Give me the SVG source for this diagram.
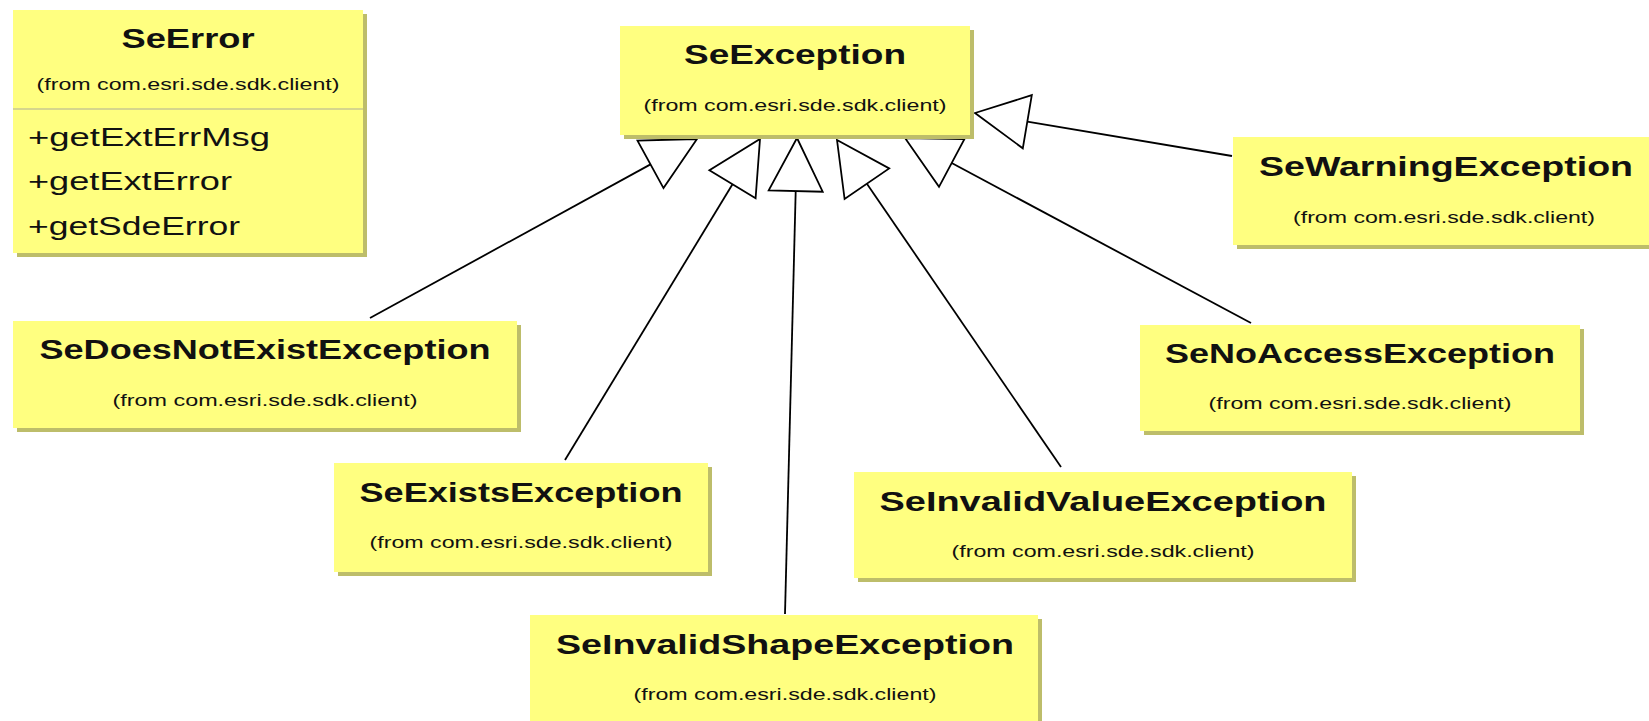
<svg xmlns="http://www.w3.org/2000/svg" width="1649" height="721" viewBox="0 0 1649 721">
<style>
.sh{fill:#BDBD6A}
.bx{fill:#FFFF80}
.t{font-family:"Liberation Sans",Arial,sans-serif;font-weight:bold;font-size:28px;fill:#111;text-anchor:middle}
.s{font-family:"Liberation Sans",Arial,sans-serif;font-size:17px;fill:#111;text-anchor:middle}
.m{font-family:"Liberation Sans",Arial,sans-serif;font-size:25px;fill:#111}
.ln{stroke:#000;stroke-width:1.8;fill:none}
.ar{stroke:#000;stroke-width:1.8;fill:#fff;stroke-linejoin:miter}
</style>
<rect width="1649" height="721" fill="#fff"/>
<g id="connectors">
<line class="ln" x1="370" y1="318" x2="650.5" y2="164.4"/>
<polygon class="ar" points="697,139 637.5,140.7 663.5,188.1"/>
<line class="ln" x1="565" y1="460" x2="732.5" y2="184.3"/>
<polygon class="ar" points="760,139 755.6,198.3 709.4,170.3"/>
<line class="ln" x1="785" y1="614" x2="795.7" y2="191"/>
<polygon class="ar" points="797,138 822.7,191.7 768.7,190.3"/>
<line class="ln" x1="1061" y1="467" x2="866.9" y2="183.7"/>
<polygon class="ar" points="837,140 889.2,168.4 844.6,199"/>
<line class="ln" x1="1251" y1="323" x2="951.7" y2="163"/>
<polygon class="ar" points="905,138 964.4,139.2 939,186.8"/>
<line class="ln" x1="1232" y1="156" x2="1027.3" y2="121.7"/>
<polygon class="ar" points="975,113 1031.8,95.1 1022.8,148.3"/>
</g>
<g id="SeError">
<rect class="sh" x="17" y="14" width="350" height="243"/>
<rect class="bx" x="13" y="10" width="350" height="243"/>
<text class="t" x="188" y="48" textLength="133" lengthAdjust="spacingAndGlyphs">SeError</text>
<text class="s" x="188" y="90" textLength="303" lengthAdjust="spacingAndGlyphs">(from com.esri.sde.sdk.client)</text>
<line x1="13" y1="109" x2="363" y2="109" stroke="#C8C890" stroke-width="1.5"/>
<text class="m" x="28" y="146" textLength="242" lengthAdjust="spacingAndGlyphs">+getExtErrMsg</text>
<text class="m" x="28" y="190" textLength="204" lengthAdjust="spacingAndGlyphs">+getExtError</text>
<text class="m" x="28" y="235" textLength="212" lengthAdjust="spacingAndGlyphs">+getSdeError</text>
</g>
<g id="SeException">
<rect class="sh" x="624" y="30" width="350" height="109"/>
<rect class="bx" x="620" y="26" width="350" height="109"/>
<text class="t" x="795" y="64" textLength="222" lengthAdjust="spacingAndGlyphs">SeException</text>
<text class="s" x="795" y="111" textLength="303" lengthAdjust="spacingAndGlyphs">(from com.esri.sde.sdk.client)</text>
</g>
<g id="SeWarningException">
<rect class="sh" x="1237" y="141" width="420" height="108"/>
<rect class="bx" x="1233" y="137" width="420" height="108"/>
<text class="t" x="1446" y="176" textLength="374" lengthAdjust="spacingAndGlyphs">SeWarningException</text>
<text class="s" x="1444" y="223" textLength="302" lengthAdjust="spacingAndGlyphs">(from com.esri.sde.sdk.client)</text>
</g>
<g id="SeDoesNotExistException">
<rect class="sh" x="17" y="325" width="504" height="107"/>
<rect class="bx" x="13" y="321" width="504" height="107"/>
<text class="t" x="265" y="359" textLength="451" lengthAdjust="spacingAndGlyphs">SeDoesNotExistException</text>
<text class="s" x="265" y="406" textLength="305" lengthAdjust="spacingAndGlyphs">(from com.esri.sde.sdk.client)</text>
</g>
<g id="SeExistsException">
<rect class="sh" x="338" y="467" width="374" height="109"/>
<rect class="bx" x="334" y="463" width="374" height="109"/>
<text class="t" x="521" y="502" textLength="323" lengthAdjust="spacingAndGlyphs">SeExistsException</text>
<text class="s" x="521" y="548" textLength="303" lengthAdjust="spacingAndGlyphs">(from com.esri.sde.sdk.client)</text>
</g>
<g id="SeInvalidShapeException">
<rect class="sh" x="534" y="619" width="508" height="110"/>
<rect class="bx" x="530" y="615" width="508" height="110"/>
<text class="t" x="785" y="654" textLength="458" lengthAdjust="spacingAndGlyphs">SeInvalidShapeException</text>
<text class="s" x="785" y="700" textLength="303" lengthAdjust="spacingAndGlyphs">(from com.esri.sde.sdk.client)</text>
</g>
<g id="SeInvalidValueException">
<rect class="sh" x="858" y="476" width="498" height="106"/>
<rect class="bx" x="854" y="472" width="498" height="106"/>
<text class="t" x="1103" y="511" textLength="447" lengthAdjust="spacingAndGlyphs">SeInvalidValueException</text>
<text class="s" x="1103" y="557" textLength="303" lengthAdjust="spacingAndGlyphs">(from com.esri.sde.sdk.client)</text>
</g>
<g id="SeNoAccessException">
<rect class="sh" x="1144" y="329" width="440" height="106"/>
<rect class="bx" x="1140" y="325" width="440" height="106"/>
<text class="t" x="1360" y="363" textLength="390" lengthAdjust="spacingAndGlyphs">SeNoAccessException</text>
<text class="s" x="1360" y="409" textLength="303" lengthAdjust="spacingAndGlyphs">(from com.esri.sde.sdk.client)</text>
</g>
</svg>
